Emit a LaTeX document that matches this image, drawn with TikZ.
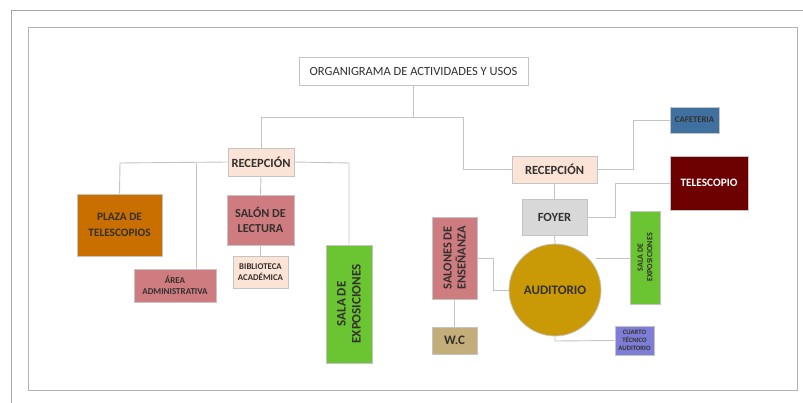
\documentclass[tikz,border=0pt]{standalone}
\usepackage{fontspec}
\setmainfont{Carlito}
\definecolor{lineg}{HTML}{C4C4C4}
\definecolor{peach}{HTML}{FBE3D5}
\definecolor{rose}{HTML}{CF7C80}
\definecolor{orng}{HTML}{C86F00}
\definecolor{grn}{HTML}{6BC431}
\definecolor{blu}{HTML}{40709F}
\definecolor{dred}{HTML}{6D0000}
\definecolor{fgray}{HTML}{D8D8D8}
\definecolor{gold}{HTML}{C99A05}
\definecolor{khaki}{HTML}{C3AD78}
\definecolor{lav}{HTML}{7E7ED8}
\definecolor{txt}{HTML}{33302E}
\newcommand{\fsz}[2]{\fontsize{#1}{#2}\selectfont}
\tikzset{
  box/.style={draw=lineg, line width=0.8pt, inner sep=0pt, align=center, text=txt, font=\bfseries},
  conn/.style={draw=lineg, line width=0.9pt},
}
\begin{document}
\begin{tikzpicture}[x=1pt,y=-1pt]
\useasboundingbox (0,0) rectangle (803,403);
\fill[white] (0,0) rectangle (803,403);
% frames
\draw[gray!70, line width=1pt] (11,403) -- (11,10.5) -- (803,10.5);
\draw[gray!60, line width=0.9pt] (28,27) rectangle (797.5,390);
% title
\node[box, font=\fsz{12.5}{15}, minimum width=229, minimum height=28] (title) at (413.5,71) {ORGANIGRAMA DE ACTIVIDADES Y USOS};
% left branch
\node[box, fill=peach, font=\bfseries\fsz{12.5}{15}, minimum width=66, minimum height=28] (rec1) at (261,162) {RECEPCIÓN};
\node[box, fill=orng, font=\bfseries\fsz{11.3}{15.5}, minimum width=85, minimum height=62] (plaza) at (119.5,225) {PLAZA DE\\TELESCOPIOS};
\node[box, fill=rose, font=\bfseries\fsz{12.2}{15}, minimum width=67, minimum height=50] (salon) at (260.5,220) {SALÓN DE\\LECTURA};
\node[box, fill=peach, font=\bfseries\fsz{8.8}{11}, minimum width=55, minimum height=32] (biblio) at (260.5,272) {BIBLIOTECA\\ACADÉMICA};
\node[box, fill=rose, font=\bfseries\fsz{9}{10.5}, minimum width=82, minimum height=33] (area) at (175,285.5) {ÁREA\\ADMINISTRATIVA};
\node[box, fill=grn, minimum width=46, minimum height=118] (sala1) at (349,304) {};
\node[rotate=90, align=center, text=txt, font=\bfseries\fsz{13}{15}] at (sala1.center) {SALA DE\\EXPOSICIONES};
% right branch
\node[box, fill=peach, font=\bfseries\fsz{12.5}{15}, minimum width=85, minimum height=27] (rec2) at (554.5,169.5) {RECEPCIÓN};
\node[box, fill=blu, font=\bfseries\fsz{8.7}{10}, minimum width=49, minimum height=26] (cafe) at (694.5,120) {CAFETERIA};
\node[box, fill=dred, text=white, font=\bfseries\fsz{11.3}{14}, minimum width=78, minimum height=54] (tele) at (709,183) {TELESCOPIO};
\node[box, fill=fgray, font=\bfseries\fsz{12.5}{15}, minimum width=65, minimum height=36] (foyer) at (554.5,217) {FOYER};
\node[box, fill=gold, circle, font=\bfseries\fsz{13}{15}, minimum size=92] (aud) at (555,290) {AUDITORIO};
\node[box, fill=rose, minimum width=45, minimum height=82] (salones) at (454.5,258) {};
\node[rotate=90, align=center, text=txt, font=\bfseries\fsz{12.4}{14}] at (salones.center) {SALONES DE\\ENSEÑANZA};
\node[box, fill=khaki, font=\bfseries\fsz{13}{15}, minimum width=45, minimum height=27] (wc) at (454.5,340.5) {W.C};
\node[box, fill=grn, minimum width=30, minimum height=93] (sala2) at (645,257.5) {};
\node[rotate=90, align=center, text=txt, font=\bfseries\fsz{8}{9.5}] at (sala2.center) {SALA DE\\EXPOSICIONES};
\node[box, fill=lav, font=\bfseries\fsz{6.7}{8}, minimum width=39, minimum height=29] (cuarto) at (634.5,340.5) {CUARTO\\TÉCNICO\\AUDITORIO};
% connectors
\draw[conn] (title.south) -- (413.5,117) coordinate (tj);
\draw[conn] (rec1.north) -- (261,117) -- (463,117) |- (rec2.west);
\draw[conn] (rec1.west) -- (120,163) -- (plaza.north);
\draw[conn] (196,163) -- (area.north -| 196,0);
\draw[conn] (rec1.east) -- (349,163) -- (sala1.north);
\draw[conn] (rec1.south) -- (salon.north);
\draw[conn] (salon.south) -- (biblio.north);
\draw[conn] (rec2.east) -- (633,169.5) |- (cafe.west);
\draw[conn] (rec2.south) -- (foyer.north);
\draw[conn] (foyer.east) -- (615,217) |- (tele.west);
\draw[conn] (foyer.south) -- (aud.north);
\draw[conn] (salones.east |- 0,258) -- (493,258) |- (aud.west);
\draw[conn] (salones.south) -- (wc.north);
\draw[conn] (aud.east |- 0,258) ++(-5,0) -- (sala2.west |- 0,258);
\draw[conn] (aud.south) -- (555,341) -- (cuarto.west);
\end{tikzpicture}
\end{document}
